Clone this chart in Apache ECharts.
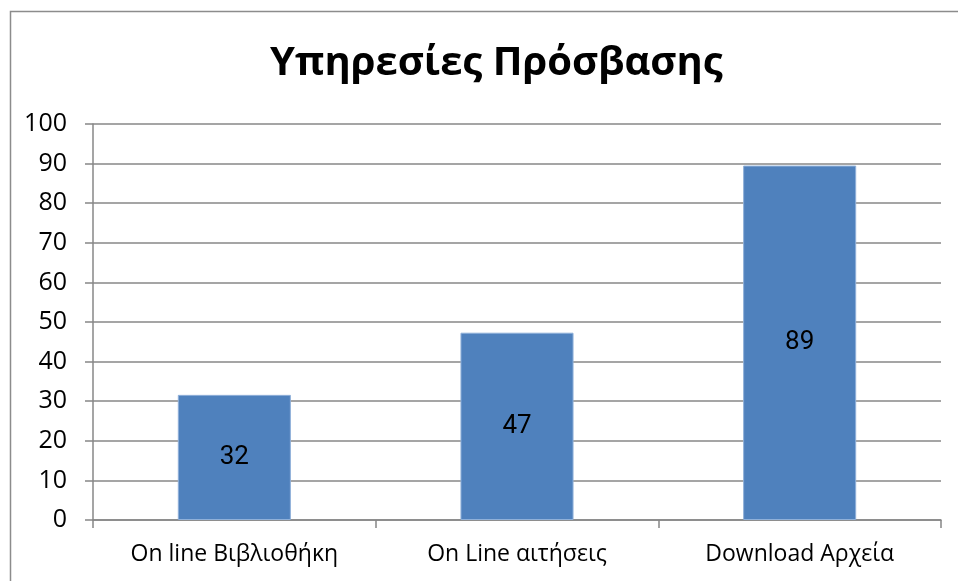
<!DOCTYPE html>
<html>
<head>
<meta charset="utf-8">
<script src="https://cdn.jsdelivr.net/npm/echarts@6/dist/echarts.min.js"></script>
<style>html,body{margin:0;padding:0;background:#fff;}#c{width:958px;height:581px;}</style>
</head>
<body>
<div id="c"></div>
<script>
const categories = ['On line Βιβλιοθήκη', 'On Line αιτήσεις', 'Download Αρχεία'];
const values = [31.6, 47.3, 89.5];
const valueLabels = ['32', '47', '89'];
const yTicks = {min: 0, max: 100, interval: 10};
const titleText = 'Υπηρεσίες Πρόσβασης';

const chart = echarts.init(document.getElementById('c'), null, {renderer: 'canvas'});
const gray = '#878787';
chart.setOption({
  animation: false,
  backgroundColor: '#fff',
  title: {
    text: titleText, left: 265, top: 39,
    textStyle: {fontFamily: 'Open Sans', fontWeight: 'bold', fontSize: 40, color: '#000'}
  },
  graphic: [{
    type: 'rect', silent: true,
    shape: {x: 10.5, y: 11.5, width: 1000, height: 1000},
    style: {fill: 'none', stroke: '#8c8c8c', lineWidth: 1.5}
  }],
  grid: {left: 93, right: 17, top: 124, bottom: 61},
  xAxis: {
    type: 'category', data: categories,
    axisLine: {lineStyle: {color: gray, width: 1.5}},
    axisTick: {show: true, length: 8, lineStyle: {color: gray, width: 1.5}},
    axisLabel: {color: '#000', fontFamily: 'Open Sans', fontSize: 23, margin: 23}
  },
  yAxis: {
    type: 'value', min: yTicks.min, max: yTicks.max, interval: yTicks.interval,
    axisLine: {show: true, lineStyle: {color: gray, width: 1.5}},
    axisTick: {show: true, length: 8, lineStyle: {color: gray, width: 1.5}},
    splitLine: {lineStyle: {color: gray, width: 1.5}},
    axisLabel: {color: '#000', fontFamily: 'Open Sans', fontSize: 25, margin: 26}
  },
  series: [{
    type: 'bar', data: values, barWidth: '40%',
    itemStyle: {color: '#4F81BD', borderColor: '#8FB0D9', borderWidth: 1},
    label: {show: true, position: 'inside', color: '#000', fontFamily: 'Roboto', fontSize: 26,
      formatter: p => valueLabels[p.dataIndex]}
  }]
});
</script>
</body>
</html>
